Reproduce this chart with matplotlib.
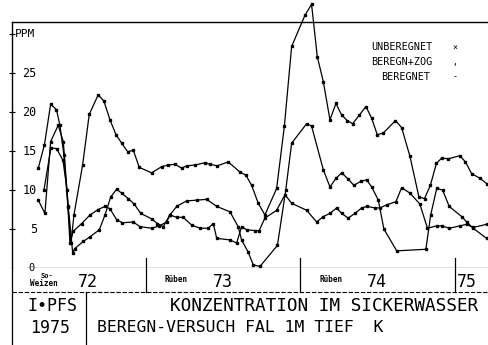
import numpy as np
import matplotlib
matplotlib.use("Agg")
import matplotlib.pyplot as plt
from matplotlib.transforms import blended_transform_factory

# Zeit in Jahren (Dezimal), Konzentration in PPM
t_unber = [1972.303, 1972.343, 1972.383, 1972.421, 1972.443, 1972.469, 1972.495, 1972.515,
           1972.534, 1972.590, 1972.633, 1972.691, 1972.728, 1972.767, 1972.806, 1972.843,
           1972.882, 1972.918, 1972.957, 1973.037, 1973.102, 1973.144, 1973.188, 1973.231,
           1973.263, 1973.317, 1973.382, 1973.414, 1973.461, 1973.533, 1973.608, 1973.647,
           1973.684, 1973.727, 1973.770, 1973.846, 1973.896, 1973.943, 1974.029, 1974.072,
           1974.109, 1974.148, 1974.191, 1974.230, 1974.267, 1974.303, 1974.338, 1974.381,
           1974.424, 1974.461, 1974.497, 1974.536, 1974.615, 1974.655, 1974.709, 1974.767,
           1974.803, 1974.841, 1974.880, 1974.914, 1974.957, 1975.032, 1975.068, 1975.108,
           1975.162, 1975.207]
v_unber = [12.8, 15.8, 21.0, 20.3, 18.3, 14.5, 7.8, 3.2,
           6.8, 13.2, 19.7, 22.2, 21.4, 19.0, 17.1, 16.0,
           14.9, 15.1, 12.9, 12.2, 13.0, 13.2, 13.3, 12.8,
           13.1, 13.2, 13.5, 13.3, 13.1, 13.6, 12.3, 11.9,
           10.6, 8.3, 6.8, 10.2, 18.2, 28.4, 32.4, 33.8,
           27.1, 23.9, 19.0, 21.1, 19.6, 18.9, 18.5, 19.6,
           20.7, 19.2, 17.1, 17.3, 18.9, 18.0, 14.3, 9.1,
           8.9, 10.6, 13.4, 14.1, 14.0, 14.4, 13.6, 12.1,
           11.5, 10.8]

t_zog = [1972.303, 1972.346, 1972.383, 1972.432, 1972.465, 1972.497, 1972.526, 1972.540,
         1972.594, 1972.638, 1972.698, 1972.735, 1972.772, 1972.810, 1972.843, 1972.885,
         1972.924, 1972.966, 1973.037, 1973.074, 1973.112, 1973.155, 1973.199, 1973.263,
         1973.328, 1973.393, 1973.458, 1973.544, 1973.597, 1973.619, 1973.660, 1973.695,
         1973.738, 1973.851, 1973.905, 1973.943, 1974.040, 1974.072, 1974.148, 1974.191,
         1974.230, 1974.267, 1974.309, 1974.346, 1974.390, 1974.428, 1974.461, 1974.504,
         1974.540, 1974.623, 1974.812, 1974.843, 1974.882, 1974.920, 1974.963, 1975.043,
         1975.076, 1975.118, 1975.205]
v_zog = [8.7, 7.0, 16.2, 18.3, 16.2, 7.9, 1.9, 2.5,
         3.4, 4.0, 4.9, 6.8, 9.1, 10.1, 9.6, 8.9,
         8.2, 7.0, 6.3, 5.7, 5.3, 6.8, 7.9, 8.6,
         8.7, 8.8, 7.9, 7.2, 5.3, 3.6, 2.1, 0.4,
         0.2, 2.9, 10.0, 16.0, 18.5, 18.2, 12.6, 10.4,
         11.5, 12.2, 11.4, 10.6, 11.1, 11.3, 10.4, 8.7,
         5.0, 2.2, 2.4, 6.8, 10.2, 10.0, 7.9, 6.6,
         5.9, 5.1, 3.8]

t_ber = [1972.340, 1972.385, 1972.422, 1972.463, 1972.489, 1972.508, 1972.529, 1972.584,
         1972.638, 1972.691, 1972.735, 1972.767, 1972.810, 1972.848, 1972.918, 1972.961,
         1973.037, 1973.086, 1973.134, 1973.155, 1973.199, 1973.241, 1973.296, 1973.349,
         1973.403, 1973.436, 1973.458, 1973.544, 1973.587, 1973.619, 1973.652, 1973.705,
         1973.733, 1973.770, 1973.846, 1973.900, 1973.943, 1974.040, 1974.105, 1974.148,
         1974.191, 1974.234, 1974.267, 1974.309, 1974.353, 1974.396, 1974.432, 1974.482,
         1974.515, 1974.558, 1974.618, 1974.655, 1974.709, 1974.773, 1974.822, 1974.882,
         1974.914, 1974.964, 1975.032, 1975.076, 1975.118, 1975.205]
v_ber = [10.0, 15.4, 15.3, 13.8, 10.0, 3.2, 4.7, 5.7,
         6.8, 7.5, 7.9, 7.6, 6.2, 5.8, 5.9, 5.3,
         5.1, 5.4, 5.9, 6.8, 6.5, 6.5, 5.5, 5.1,
         5.1, 5.7, 3.8, 3.6, 3.2, 5.3, 4.9, 4.8,
         4.8, 6.4, 7.4, 9.4, 8.3, 7.4, 5.9, 6.6,
         7.0, 7.7, 7.0, 6.4, 7.0, 7.7, 7.9, 7.7,
         7.7, 8.1, 8.5, 10.3, 9.6, 8.2, 5.1, 5.4,
         5.4, 5.1, 5.4, 5.6, 5.2, 5.6]

y_ticks = [5, 10, 15, 20, 25]
jahre = [1973, 1974, 1975]
jahr_labels = ["72", "73", "74", "75"]
legende = ["UNBEREGNET", "BEREGN+ZOG", "BEREGNET"]

MONO = "DejaVu Sans Mono"
W, H = 488, 345
plt.rcParams["font.family"] = MONO
fig = plt.figure(figsize=(W / 100, H / 100), dpi=100)

# Diagrammbereich in Pixeln: links 12, oben 22, Nulllinie 268
ax = fig.add_axes([12 / W, (H - 268) / H, (W - 12) / W, (268 - 22) / H])
ax.set_xlim(1972.133, 1975.214)
ax.set_ylim(0, 31.54)
ax.patch.set_alpha(0)
for s in ["right", "bottom"]:
    ax.spines[s].set_visible(False)
for s in ["left", "top"]:
    ax.spines[s].set_linewidth(1.0)
ax.set_xticks([])
ax.set_yticks(y_ticks + [30])
ax.set_yticklabels([])
ax.tick_params(axis="y", direction="inout", length=4, width=0.8)

for t, v in [(t_unber, v_unber), (t_zog, v_zog), (t_ber, v_ber)]:
    ax.plot(t, v, color="black", lw=0.9, marker="s", ms=1.8, clip_on=False)

# Nulllinie
ax.axhline(0, xmin=15 / 476, xmax=1, color="black", lw=0.9)
ax.text(0.042, 0, "0", transform=ax.get_yaxis_transform(), fontsize=7.5,
        ha="center", va="center")

# y-Beschriftung innen
for yt in y_ticks:
    ax.text(0.052, yt, str(yt), transform=ax.get_yaxis_transform(), fontsize=8.5,
            ha="right", va="center")
ax.text(0.006, 30, "PPM", transform=ax.get_yaxis_transform(), fontsize=8,
        ha="left", va="center")

# Legende oben rechts
over = fig.add_axes([0, 0, 1, 1])
over.set_xlim(0, W)
over.set_ylim(H, 0)
over.axis("off")
over.patch.set_alpha(0)
for i, (txt, mk) in enumerate(zip(legende, ["\u00d7", ",", "-"])):
    y = 47 + i * 15
    over.text(402 if i < 2 else 406, y, txt, fontsize=7.3, ha="center", va="center")
    over.text(455, y + (1 if i == 0 else 0), mk, fontsize=6, ha="center", va="center")

# Jahresband unter dem Diagramm
bt = blended_transform_factory(ax.transData, over.transData)
for j in jahre:
    over.plot([j, j], [258, 292], color="black", lw=0.9, transform=bt)
over.plot([12, 12], [268, H], color="black", lw=0.9)
over.plot([12, W], [292, 292], color="black", lw=0.8, ls=(0, (4, 1.5)))

over.text(47, 276, "So-", fontsize=5, fontweight="bold", ha="center", va="center")
over.text(44, 283, "Weizen", fontsize=5.5, fontweight="bold", ha="center", va="center")
over.text(176, 279, "R\u00fcben", fontsize=5.5, fontweight="bold", ha="center", va="center")
over.text(331, 279, "R\u00fcben", fontsize=5.5, fontweight="bold", ha="center", va="center")
for x, lab in zip([88, 223, 377, 467], jahr_labels):
    over.text(x, 282, lab, fontsize=12, ha="center", va="center")

# Titelblock
over.plot([86, 86], [292, H], color="black", lw=0.9)
over.text(52, 306, "I\u2022PFS", fontsize=12, ha="center", va="center")
over.text(50, 328, "1975", fontsize=12, ha="center", va="center")
over.text(478, 306, "KONZENTRATION IM SICKERWASSER", fontsize=12.8, ha="right", va="center")
over.text(97, 328, "BEREGN-VERSUCH FAL 1M TIEF  K", fontsize=11.8, ha="left", va="center")

fig.savefig("out.png", dpi=100)
